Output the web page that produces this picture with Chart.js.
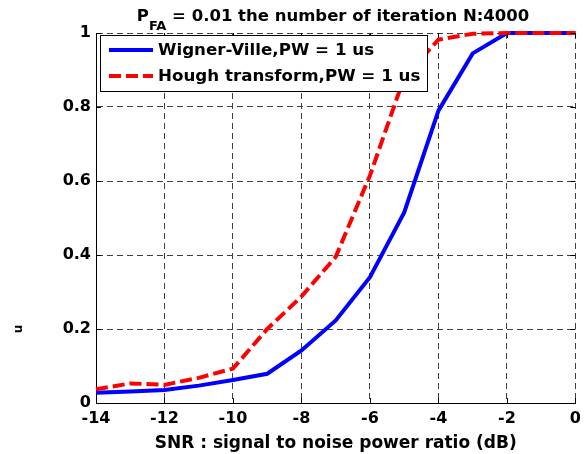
<!DOCTYPE html>
<html>
<head>
<meta charset="utf-8">
<script src="https://cdn.jsdelivr.net/npm/chart.js@4.4.1/dist/chart.umd.min.js"></script>
<style>
  html, body { margin: 0; padding: 0; background: #ffffff; }
  #wrap { width: 587px; height: 454px; position: relative; }
</style>
</head>
<body>
<div id="wrap"><canvas id="c" width="587" height="454"></canvas></div>
<script>
// ---- data ----
const snrDb = [-14, -13, -12, -11, -10, -9, -8, -7, -6, -5, -4, -3, -2, -1, 0];
const wignerVille = [0.028, 0.031, 0.035, 0.047, 0.062, 0.079, 0.142, 0.223, 0.340, 0.515, 0.790, 0.945, 1, 1, 1];
const houghTransform = [0.037, 0.053, 0.049, 0.068, 0.093, 0.200, 0.288, 0.395, 0.615, 0.880, 0.982, 0.998, 1, 1, 1];
const seriesLabels = ['Wigner-Ville,PW = 1 us', 'Hough transform,PW = 1 us'];
const titleMain = 'P';
const titleSub = 'FA';
const titleRest = ' = 0.01 the number of iteration N:4000';
const xAxisTitle = 'SNR : signal to noise power ratio (dB)';
const yAxisFragment = 'u';

const FONT = '"DejaVu Sans", "Liberation Sans", Arial, sans-serif';

const toPts = (xs, ys) => xs.map((x, i) => ({ x: x, y: ys[i] }));

const decorPlugin = {
  id: 'decor',
  afterDatasetsDraw(chart) {
    const ctx = chart.ctx;
    const ca = chart.chartArea;
    const xs = chart.scales.x, ys = chart.scales.y;
    ctx.save();
    // inward ticks
    ctx.strokeStyle = '#000';
    ctx.lineWidth = 1;
    ctx.setLineDash([]);
    xs.ticks.forEach(t => {
      const px = Math.round(xs.getPixelForValue(t.value)) + 0.5;
      ctx.beginPath();
      ctx.moveTo(px, ca.bottom); ctx.lineTo(px, ca.bottom - 5);
      ctx.moveTo(px, ca.top); ctx.lineTo(px, ca.top + 5);
      ctx.stroke();
    });
    ys.ticks.forEach(t => {
      const py = Math.round(ys.getPixelForValue(t.value)) + 0.5;
      ctx.beginPath();
      ctx.moveTo(ca.left, py); ctx.lineTo(ca.left + 5, py);
      ctx.moveTo(ca.right, py); ctx.lineTo(ca.right - 5, py);
      ctx.stroke();
    });

    // legend box
    const bx = 100.5, by = 35.5, bw = 327, bh = 56;
    ctx.fillStyle = '#fff';
    ctx.fillRect(bx, by, bw, bh);
    ctx.strokeStyle = '#000';
    ctx.lineWidth = 1;
    ctx.strokeRect(bx, by, bw, bh);
    const ds = chart.data.datasets;
    const rows = [50, 76];
    ds.forEach((d, i) => {
      ctx.save();
      ctx.strokeStyle = d.borderColor;
      ctx.lineWidth = 4;
      ctx.setLineDash(d.borderDash || []);
      ctx.beginPath();
      ctx.moveTo(109, rows[i]);
      ctx.lineTo(153, rows[i]);
      ctx.stroke();
      ctx.restore();
      ctx.fillStyle = '#000';
      ctx.font = 'bold 16.7px ' + FONT;
      ctx.textBaseline = 'middle';
      ctx.textAlign = 'left';
      ctx.fillText(d.label, 158, rows[i] + 1);
    });

    // title with subscript
    ctx.fillStyle = '#000';
    ctx.textBaseline = 'alphabetic';
    ctx.textAlign = 'left';
    ctx.font = 'bold 16.5px ' + FONT;
    const wMain = ctx.measureText(titleMain).width;
    const wRest = ctx.measureText(titleRest).width;
    ctx.font = 'bold 13px ' + FONT;
    const wSub = ctx.measureText(titleSub).width;
    const total = wMain + wSub + wRest;
    let tx = 333 - total / 2;
    ctx.font = 'bold 16.5px ' + FONT;
    ctx.fillText(titleMain, tx, 21);
    tx += wMain;
    ctx.font = 'bold 13px ' + FONT;
    ctx.fillText(titleSub, tx, 30);
    tx += wSub;
    ctx.font = 'bold 16.5px ' + FONT;
    ctx.fillText(titleRest, tx, 21);

    // clipped y-axis label fragment
    ctx.save();
    ctx.translate(22, 329);
    ctx.rotate(-Math.PI / 2);
    ctx.font = 'bold 12px ' + FONT;
    ctx.textAlign = 'center';
    ctx.textBaseline = 'alphabetic';
    ctx.fillText(yAxisFragment, 0, 0);
    ctx.restore();

    ctx.restore();
  }
};

new Chart(document.getElementById('c'), {
  type: 'line',
  data: {
    datasets: [
      {
        label: seriesLabels[0],
        data: toPts(snrDb, wignerVille),
        borderColor: '#0000ff',
        backgroundColor: '#0000ff',
        borderWidth: 4,
        pointRadius: 0,
        tension: 0,
        clip: 6,
        order: 1
      },
      {
        label: seriesLabels[1],
        data: toPts(snrDb, houghTransform),
        borderColor: '#ff0000',
        backgroundColor: '#ff0000',
        borderWidth: 4,
        borderDash: [12, 5],
        pointRadius: 0,
        tension: 0,
        clip: 6,
        order: 0
      }
    ]
  },
  options: {
    responsive: false,
    animation: false,
    devicePixelRatio: 1,
    layout: { padding: { top: 33, right: 10, left: 0, bottom: 0 } },
    plugins: {
      legend: { display: false },
      title: { display: false },
      tooltip: { enabled: false }
    },
    scales: {
      x: {
        type: 'linear',
        min: -14,
        max: 0,
        afterFit(scale) { scale.height = 51; },
        ticks: {
          stepSize: 2,
          color: '#000',
          padding: 6,
          maxRotation: 0,
          font: { family: FONT, size: 16, weight: 'bold' }
        },
        grid: {
          color: '#404040',
          lineWidth: 1,
          drawTicks: false
        },
        border: { display: true, color: '#000', width: 1, dash: [6, 4] },
        title: {
          display: true,
          text: xAxisTitle,
          color: '#000',
          font: { family: FONT, size: 17, weight: 'bold' },
          padding: { top: 0, bottom: 0 }
        }
      },
      y: {
        min: 0,
        max: 1,
        afterFit(scale) { scale.width = 96; },
        ticks: {
          stepSize: 0.2,
          color: '#000',
          padding: 5,
          font: { family: FONT, size: 16, weight: 'bold' },
          callback: (v) => String(Number(v.toFixed(1)))
        },
        grid: {
          color: '#404040',
          lineWidth: 1,
          drawTicks: false
        },
        border: { display: true, color: '#000', width: 1, dash: [6, 4] }
      }
    }
  },
  plugins: [decorPlugin]
});
</script>
</body>
</html>
